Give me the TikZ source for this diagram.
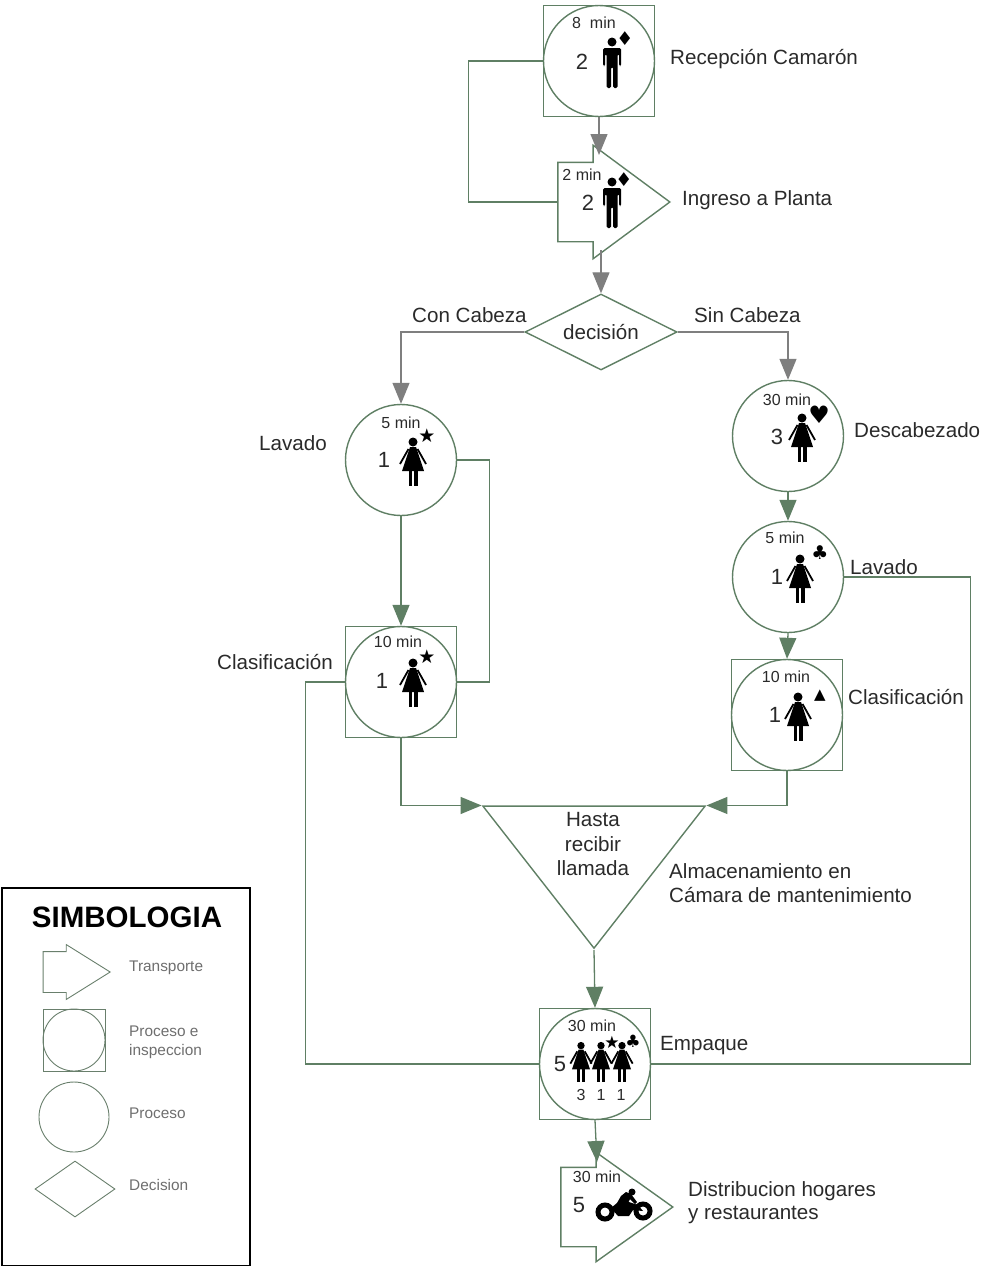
\documentclass[tikz,border=0pt]{standalone}
\usepackage{fontspec}
\setmainfont{Liberation Sans}
\newfontfamily\symfont{DejaVu Sans}
\usepackage{xcolor}
\usepackage{tikz}
\usetikzlibrary{shapes,shapes.geometric,shapes.arrows,arrows.meta}
\definecolor{verde}{HTML}{5F7F64}
\definecolor{gris}{HTML}{7F7F7F}
\definecolor{tinta}{HTML}{2A2A2A}
\definecolor{leyenda}{HTML}{6E6E6E}
\tikzset{
  caja/.style={rectangle,draw=verde,line width=1.4pt,minimum size=111pt,inner sep=0pt},
  proc/.style={circle,draw=verde,line width=1.4pt,minimum size=111pt,inner sep=0pt},
  transp/.style={single arrow,draw=verde,line width=1.4pt,inner xsep=0pt,inner ysep=39pt,minimum height=112pt,minimum width=112pt,single arrow head extend=17pt,single arrow tip angle=73},
  decis/.style={diamond,draw=verde,line width=1.4pt,aspect=2,inner sep=0pt,minimum width=152pt,minimum height=76pt,text=tinta,font=\fontsize{20.6}{22}\selectfont},
  alma/.style={isosceles triangle,isosceles triangle stretches,draw=verde,line width=1.4pt,shape border rotate=-90,inner sep=0pt,minimum width=222pt,minimum height=142pt},
  lin/.style={verde,line width=1.3pt},
  flecha/.style={verde,line width=1.3pt,->},
  flechag/.style={gris,line width=1.3pt,->},
  etq/.style={inner sep=0pt,anchor=west,text=tinta,font=\fontsize{20.6}{22}\selectfont},
  txt/.style={inner sep=0pt,text=tinta,font=\fontsize{20.6}{22}\selectfont},
  mins/.style={inner sep=0pt,text=tinta,font=\fontsize{16}{18}\selectfont},
  num/.style={inner sep=0pt,text=tinta,font=\fontsize{22}{24}\selectfont},
  sim/.style={inner sep=0pt,font=\symfont\fontsize{19}{20}\selectfont},
  ley/.style={inner sep=0pt,anchor=west,text=leyenda,font=\fontsize{15.4}{17}\selectfont},
  ley1/.style={draw=verde!70!gray,line width=0.9pt,inner sep=0pt},
  hombre/.pic={
    \fill (0,-20) circle (4.5);
    \fill[rounded corners=1.5pt] (-9,-14) -- (9,-14) -- (9,4) -- (7,4) -- (7,-8) -- (5.5,-8) -- (5.5,26) -- (1,26) -- (1,5) -- (-1,5) -- (-1,26) -- (-5.5,26) -- (-5.5,-8) -- (-7,-8) -- (-7,4) -- (-9,4) -- cycle;
  },
  mujer/.pic={
    \fill (0,-20) circle (4.5);
    \fill (-3,-15) -- (3,-15) -- (11,9) -- (-11,9) -- cycle;
    \draw[line width=1.8pt] (-4.5,-13) -- (-13,2);
    \draw[line width=1.8pt] (4.5,-13) -- (13,2);
    \fill (-4.5,9) rectangle (-0.7,24);
    \fill (0.7,9) rectangle (4.5,24);
  },
  moto/.pic={
    \draw[line width=5pt] (-18,7) circle (7);
    \draw[line width=5pt] (20,6) circle (7);
    \fill (-12,3) -- (-6,-2) -- (6,-3) -- (15,0) -- (20,6) -- (10,5) -- (6,11) -- (-5,11) -- cycle;
    \fill (-6,-2) -- (-2,-9) -- (3,-13) -- (8,-11) -- (14,-3) -- (12,-1) -- (7,-6) -- (5,-2) -- (6,3) -- (0,4) -- cycle;
    \fill (9,-13) circle (3.5);
  }
}

\begin{document}
\begin{tikzpicture}[x=1pt,y=-1pt,>={Triangle[length=21pt,width=17pt]}]
    \useasboundingbox (0,0) rectangle (982,1266);

    \node[caja] (recepc) at (599,61) {};
    \node[proc] (recep) at (599,61) {};
    \node[transp,anchor=tip] (ingreso) at (671,202) {};
    \node[decis] (decision) at (601,332) {decisión};
    \node[proc] (lavado) at (401,460) {};
    \node[caja] (clasifc) at (401,682) {};
    \node[proc] (clasif) at (401,682) {};
    \node[proc] (descab) at (788,436) {};
    \node[proc] (lavadod) at (788,577) {};
    \node[caja] (clasifdc) at (787,715) {};
    \node[proc] (clasifd) at (787,715) {};
    \node[alma,anchor=apex] (camara) at (594,950) {};
    \node[caja] (empaquec) at (595,1064) {};
    \node[proc] (empaque) at (595,1064) {};
    \node[transp,anchor=tip,minimum width=108pt,single arrow head extend=15pt,single arrow tip angle=71] (distrib) at (674,1207) {};
    \coordinate (ingresoin) at (599,155);
    \coordinate (ingresoout) at (601,250);
    \coordinate (distribin) at (597,1162);

    \node[mins] (t1) at (594,23) {8\ \ min};
    \node[num] (n1) at (582,62) {2};
    \pic at (612,62) {hombre};
    \node[sim] (s1) at (625,39) {♦};
    \node[etq] (e1) at (670,59) {Recepción Camarón};

    \node[mins] (t2) at (582,175) {2 min};
    \node[num] (n2) at (588,203) {2};
    \pic at (612,202) {hombre};
    \node[sim] (s2) at (624,180) {♦};
    \node[etq] (e2) at (682,200) {Ingreso a Planta};

    \node[etq] (con) at (412,315) {Con Cabeza};
    \node[etq] (sin) at (694,315) {Sin Cabeza};

    \node[mins] (t3) at (401,423) {5 min};
    \node[num] (n3) at (384,460) {1};
    \pic at (413,462) {mujer};
    \node[sim] (s3) at (427,436) {★};
    \node[etq] (e3) at (259,443) {Lavado};

    \node[mins] (t4) at (398,642) {10 min};
    \node[num] (n4) at (382,681) {1};
    \pic at (413,683) {mujer};
    \node[sim] (s4) at (427,657) {★};
    \node[etq] (e4) at (217,662) {Clasificación};

    \node[mins] (t5) at (787,400) {30 min};
    \node[num] (n5) at (777,437) {3};
    \pic at (802,438) {mujer};
    \node[sim,font=\symfont\fontsize{24}{24}\selectfont] (s5) at (819,415) {♥};
    \node[etq] (e5) at (854,430) {Descabezado};

    \node[mins] (t6) at (785,538) {5 min};
    \node[num] (n6) at (777,577) {1};
    \pic at (800,579) {mujer};
    \node[sim] (s6) at (820,553) {♣};
    \node[etq] (e6) at (850,567) {Lavado};

    \node[mins] (t7) at (786,677) {10 min};
    \node[num] (n7) at (775,715) {1};
    \pic at (798,717) {mujer};
    \node[sim,font=\symfont\fontsize{15}{16}\selectfont] (s7) at (820,696) {▲};
    \node[etq] (e7) at (848,697) {Clasificación};

    \node[txt] (h1) at (593,820) {Hasta};
    \node[txt] (h2) at (593,844) {recibir};
    \node[txt] (h3) at (593,868) {llamada};
    \node[etq] (a1) at (669,871) {Almacenamiento en};
    \node[etq] (a2) at (669,895) {Cámara de mantenimiento};

    \node[mins] (t8) at (592,1026) {30 min};
    \node[num] (n8) at (560,1064) {5};
    \pic[scale=0.82] at (581,1062) {mujer};
    \pic[scale=0.82] at (601,1062) {mujer};
    \pic[scale=0.82] at (622,1062) {mujer};
    \node[sim,font=\symfont\fontsize{17}{18}\selectfont] (s8) at (612,1042) {★};
    \node[sim,font=\symfont\fontsize{17}{18}\selectfont] (s9) at (633,1041) {♣};
    \node[mins] (q1) at (581,1095) {3};
    \node[mins] (q2) at (601,1095) {1};
    \node[mins] (q3) at (621,1095) {1};
    \node[etq] (e8) at (660,1046) {Empaque};

    \node[mins] (t9) at (597,1177) {30 min};
    \node[num] (n9) at (579,1205) {5};
    \pic at (623,1205) {moto};
    \node[etq] (d1) at (688,1191) {Distribucion hogares};
    \node[etq] (d2) at (688,1215) {y restaurantes};

    \draw [lin] (recep.west) -- ++(-74,0) |- (ingreso.tail);
    \draw [flechag] (recepc.south) to (ingresoin);
    \draw [flechag] (ingresoout) to (decision.north);
    \draw [flechag] (decision.west) -| (lavado.north);
    \draw [flechag] (decision.east) -| (descab.north);
    \draw [flecha] (lavado.south) to (clasifc.north);
    \draw [lin] (lavado.east) -- ++(32,0) |- (clasifc.east);
    \draw [lin] (clasifc.west) -- ++(-39,0) |- (empaquec.west);
    \draw [flecha] (clasifc.south) |- (camara.right corner);
    \draw [flecha] (descab.south) to (lavadod.north);
    \draw [flecha] (lavadod.south) to (clasifdc.north);
    \draw [lin] (lavadod.east) -- ++(126,0) |- (empaquec.east);
    \draw [flecha] (clasifdc.south) |- (camara.left corner);
    \draw [flecha] (camara.apex) to (empaquec.north);
    \draw [flecha] (empaquec.south) to (distribin);

    \node[draw=black,line width=2pt,minimum width=248pt,minimum height=378pt,inner sep=0pt] (marco) at (126,1077) {};
    \node[inner sep=0pt,font=\bfseries\fontsize{29.5}{32}\selectfont] (titulo) at (127,917) {SIMBOLOGIA};
    \node[single arrow,ley1,anchor=tip,inner xsep=0pt,inner ysep=20pt,minimum height=67pt,minimum width=54pt,single arrow head extend=7pt,single arrow tip angle=64] (ltransp) at (111,972) {};
    \node[rectangle,ley1,minimum size=62pt] (lcaja) at (74,1040) {};
    \node[circle,ley1,minimum size=62pt] (lproci) at (74,1040) {};
    \node[circle,ley1,minimum size=70pt] (lproc) at (74,1117) {};
    \node[diamond,ley1,aspect=1.43,minimum width=80pt,minimum height=56pt] (ldecis) at (75,1189) {};
    \node[ley] (l1) at (129,968) {Transporte};
    \node[ley] (l2) at (129,1031) {Proceso e};
    \node[ley] (l3) at (129,1052) {inspeccion};
    \node[ley] (l4) at (129,1113) {Proceso};
    \node[ley] (l5) at (129,1185) {Decision};
\end{tikzpicture}
\end{document}
